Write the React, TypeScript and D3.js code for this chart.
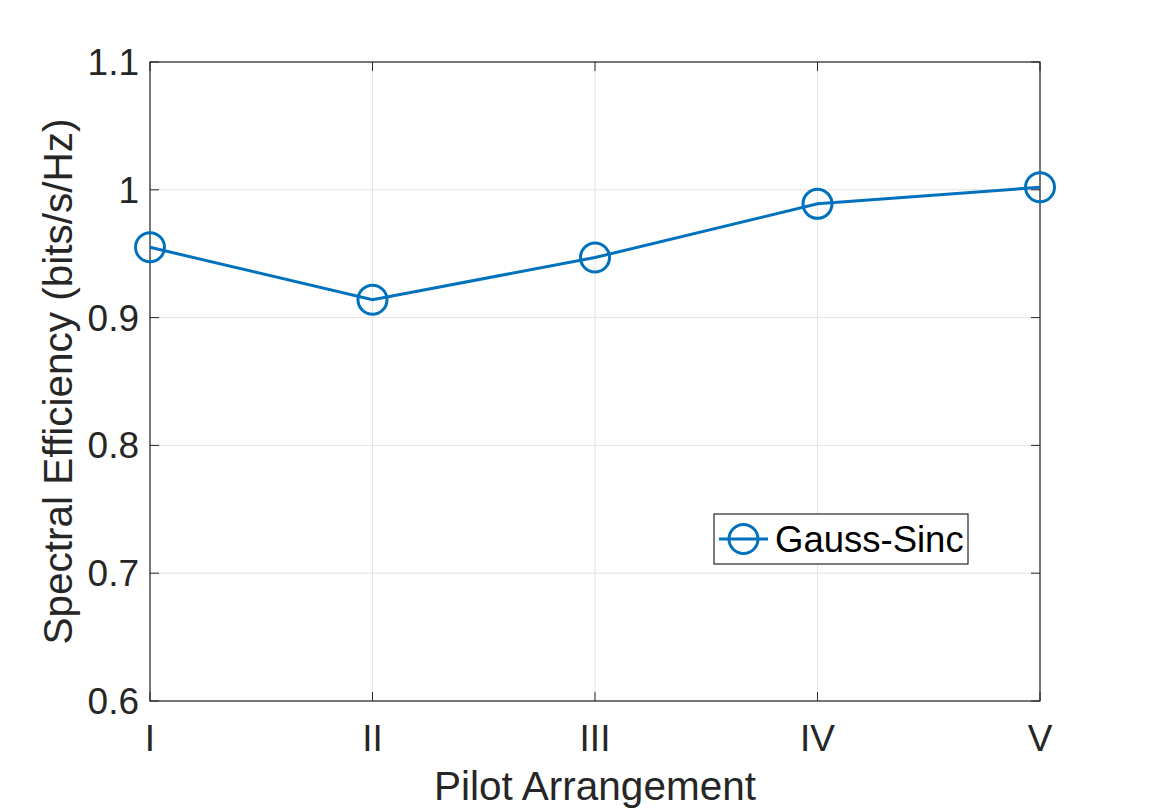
import React from "react";
import * as d3 from "d3";

const categories = ["I", "II", "III", "IV", "V"];
const values = [0.955, 0.914, 0.947, 0.989, 1.002];
const yTicks = [0.6, 0.7, 0.8, 0.9, 1, 1.1];
const seriesName = "Gauss-Sinc";

const W = 1150;
const H = 812;
const M = { left: 150, right: 1040, top: 62, bottom: 701 };
const COLOR = "#0072BD";
const AX = "#262626";
const FONT = "Liberation Sans, Arial, Helvetica, sans-serif";

export default function App() {
  const x = d3
    .scalePoint<string>()
    .domain(categories)
    .range([M.left, M.right]);
  const y = d3.scaleLinear().domain([0.6, 1.1]).range([M.bottom, M.top]);
  const line = d3
    .line<number>()
    .x((_, i) => x(categories[i]) as number)
    .y((d) => y(d));
  const tick = 9;

  return (
    <svg
      width={W}
      height={H}
      style={{ position: "absolute", left: 0, top: 0, background: "#fff" }}
      fontFamily={FONT}
    >
      <rect x={0} y={0} width={W} height={H} fill="#fff" />
      {categories.map((c) => (
        <line
          key={"gx" + c}
          x1={x(c)}
          x2={x(c)}
          y1={M.top}
          y2={M.bottom}
          stroke="#e3e3e3"
          strokeWidth={1}
        />
      ))}
      {yTicks.map((t) => (
        <line
          key={"gy" + t}
          x1={M.left}
          x2={M.right}
          y1={y(t)}
          y2={y(t)}
          stroke="#e3e3e3"
          strokeWidth={1}
        />
      ))}
      {categories.map((c) => (
        <g key={"tx" + c}>
          <line x1={x(c)} x2={x(c)} y1={M.bottom} y2={M.bottom - tick} stroke={AX} />
          <line x1={x(c)} x2={x(c)} y1={M.top} y2={M.top + tick} stroke={AX} />
          <text x={x(c)} y={751} textAnchor="middle" fontSize={37} fill={AX}>
            {c}
          </text>
        </g>
      ))}
      {yTicks.map((t) => (
        <g key={"ty" + t}>
          <line x1={M.left} x2={M.left + tick} y1={y(t)} y2={y(t)} stroke={AX} />
          <line x1={M.right} x2={M.right - tick} y1={y(t)} y2={y(t)} stroke={AX} />
          <text x={139} y={y(t) + 13} textAnchor="end" fontSize={37} fill={AX}>
            {d3.format("")(t)}
          </text>
        </g>
      ))}
      <rect
        x={M.left}
        y={M.top}
        width={M.right - M.left}
        height={M.bottom - M.top}
        fill="none"
        stroke={AX}
        strokeWidth={1.2}
      />
      <path d={line(values) || ""} fill="none" stroke={COLOR} strokeWidth={3} />
      {values.map((v, i) => (
        <circle
          key={"p" + i}
          cx={x(categories[i])}
          cy={y(v)}
          r={14.5}
          fill="none"
          stroke={COLOR}
          strokeWidth={3}
        />
      ))}
      <text
        x={(M.left + M.right) / 2}
        y={800}
        textAnchor="middle"
        fontSize={40.5}
        fill={AX}
      >
        Pilot Arrangement
      </text>
      <text
        transform={`translate(72, ${(M.top + M.bottom) / 2}) rotate(-90)`}
        textAnchor="middle"
        fontSize={40.5}
        fill={AX}
      >
        Spectral Efficiency (bits/s/Hz)
      </text>
      <rect x={714} y={514} width={254} height={50} fill="#fff" stroke={AX} strokeWidth={1.2} />
      <line x1={719} x2={768} y1={539} y2={539} stroke={COLOR} strokeWidth={3} />
      <circle cx={743.5} cy={539} r={14.5} fill="none" stroke={COLOR} strokeWidth={3} />
      <text x={775} y={552} fontSize={36.5} fill="#000">
        {seriesName}
      </text>
    </svg>
  );
}
